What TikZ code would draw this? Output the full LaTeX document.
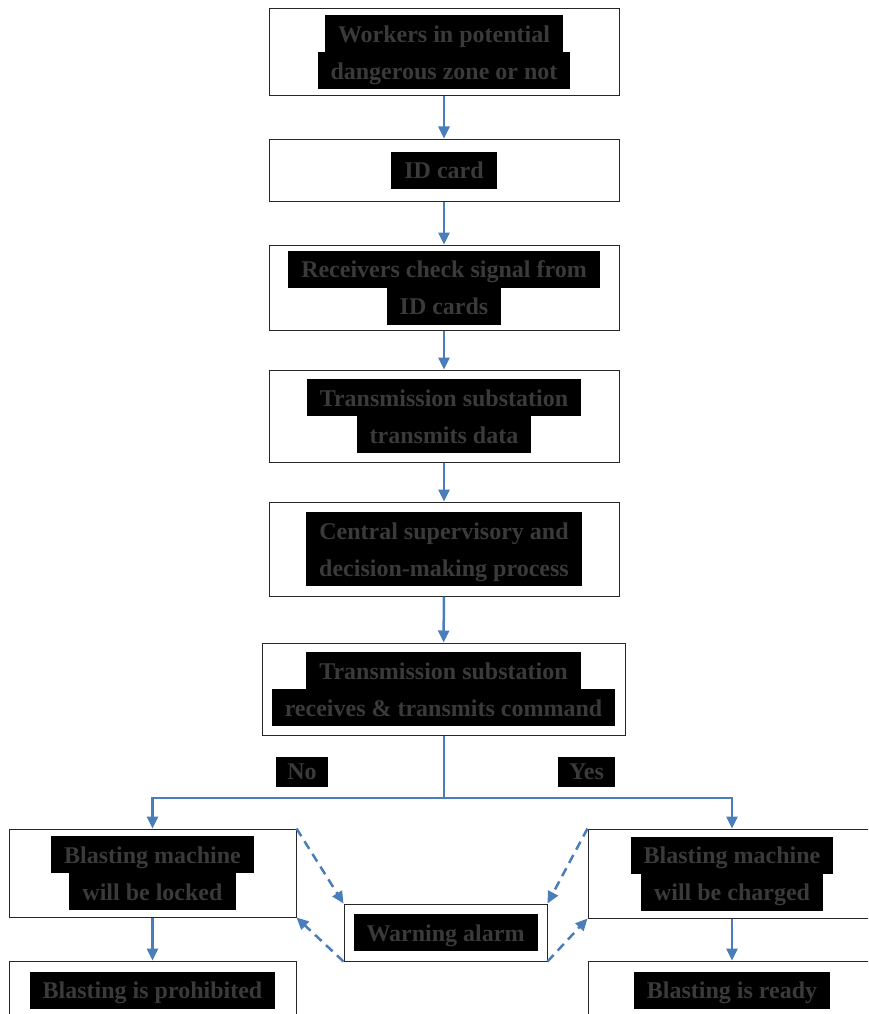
\documentclass[tikz,border=0pt]{standalone}
\usepackage{fontspec}
\setmainfont{Liberation Serif}
\usetikzlibrary{arrows.meta}

\definecolor{flowblue}{RGB}{74,126,187}
\definecolor{inktext}{RGB}{58,58,58}
\newcommand{\hlline}[1]{{\setlength{\fboxsep}{0pt}\colorbox{black}{\rule[-10pt]{0pt}{37pt}\hspace{13pt}#1\hspace{13pt}}}}

\tikzset{
  box/.style={draw=black!85, line width=1pt, fill=white, align=center,
    text=inktext, inner sep=0pt, font=\bfseries\fontsize{24}{37}\selectfont},
  flow/.style={draw=flowblue, line width=2.5pt, -{Triangle[width=11pt,length=12pt]}},
  alarm/.style={flow, dash pattern=on 9pt off 6pt},
  answer/.style={text=inktext, fill=black, font=\bfseries\fontsize{24}{26}\selectfont,
    minimum height=30pt, inner xsep=11pt}
}

\begin{document}
\begin{tikzpicture}[x=1pt, y=-1pt]
  \useasboundingbox (0,0) rectangle (868,1014);
  \clip (0,0) rectangle (868,1014);

  % Draw the main chain
  \node[box, minimum width=350pt, minimum height=87pt] (workers) at (444,52.5)
    {\hlline{Workers in potential}\\\hlline{dangerous zone or not}};
  \node[box, minimum width=350pt, minimum height=62pt] (idcard) at (444,170)
    {\hlline{ID card}};
  \node[box, minimum width=350pt, minimum height=85pt] (receivers) at (444,287.5)
    {\hlline{Receivers check signal from}\\\hlline{ID cards}};
  \node[box, minimum width=350pt, minimum height=92pt] (transmit) at (444,416)
    {\hlline{Transmission substation}\\\hlline{transmits data}};
  \node[box, minimum width=350pt, minimum height=94pt] (central) at (444,549)
    {\hlline{Central supervisory and}\\\hlline{decision-making process}};
  \node[box, minimum width=363pt, minimum height=92pt] (command) at (443.5,689)
    {\hlline{Transmission substation}\\\hlline{receives \& transmits command}};

  % Draw the two outcomes
  \node[box, minimum width=287pt, minimum height=88pt] (locked) at (152.5,873)
    {\hlline{Blasting machine}\\\hlline{will be locked}};
  \node[box, minimum width=288pt, minimum height=89pt] (charged) at (732,873.5)
    {\hlline{Blasting machine}\\\hlline{will be charged}};
  \node[box, minimum width=203pt, minimum height=57pt] (warning) at (445.5,932.5)
    {\hlline{Warning alarm}};
  \node[box, minimum width=287pt, minimum height=58pt] (prohibited) at (152.5,990)
    {\hlline{Blasting is prohibited}};
  \node[box, minimum width=288pt, minimum height=58pt] (ready) at (732,990)
    {\hlline{Blasting is ready}};

  % Label the branches
  \node[answer] (no) at (302,772) {No};
  \node[answer] (yes) at (586.5,772) {Yes};

  % Draw the arrows
  \draw[flow] (workers) -- (idcard);
  \draw[flow] (idcard) -- (receivers);
  \draw[flow] (receivers) -- (transmit);
  \draw[flow] (transmit) -- (central);
  \draw[flow] (central) -- (command);
  \coordinate (split) at (444,798);
  \draw[draw=flowblue, line width=2.5pt] (command.south -| split) -- (split);
  \draw[flow] (split) -| (locked);
  \draw[flow] (split) -| (charged);
  \draw[flow] (locked) -- (prohibited);
  \draw[flow] (charged) -- (ready);

  % Draw the alarm links
  \draw[alarm] (locked.north east) -- (warning.north west);
  \draw[alarm] (warning.south west) -- (locked.south east);
  \draw[alarm] (charged.north west) -- (warning.north east);
  \draw[alarm] (warning.south east) -- (charged.south west);
\end{tikzpicture}
\end{document}
